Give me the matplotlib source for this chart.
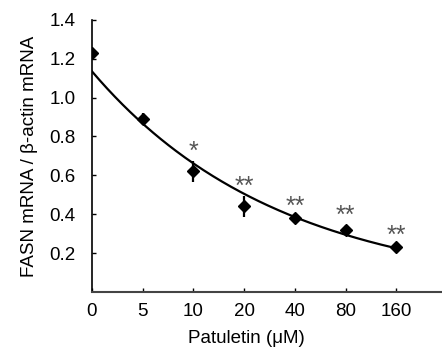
import numpy as np
import matplotlib
matplotlib.use("Agg")
import matplotlib.pyplot as plt

plt.rcParams['font.family'] = ['Liberation Sans', 'DejaVu Sans']

doses = ["0", "5", "10", "20", "40", "80", "160"]
values = [1.23, 0.89, 0.62, 0.44, 0.38, 0.32, 0.23]
errors = [0.02, 0.03, 0.055, 0.055, 0.01, 0.025, 0.01]
stars = ["", "", "*", "**", "**", "**", "**"]
yticks = [0.2, 0.4, 0.6, 0.8, 1.0, 1.2, 1.4]

fig = plt.figure(figsize=(4.42, 3.5), dpi=100)
ax = fig.add_axes([0.208, 0.166, 0.792, 0.777])

x = np.arange(len(doses))
ax.errorbar(x, values, yerr=errors, fmt='D', color='black', markersize=6.5,
            elinewidth=1.6, capsize=0, zorder=3)

# exponential trendline (least squares on log values)
slope, intercept = np.polyfit(x, np.log(values), 1)
xs = np.linspace(0, len(doses) - 1, 200)
ax.plot(xs, np.exp(intercept + slope * xs), color='black', lw=1.6, zorder=2)

for xi, v, e, s in zip(x, values, errors, stars):
    if s:
        ax.annotate(s, xy=(xi, v + e), xytext=(0, 1.5), textcoords='offset points',
                    ha='center', va='baseline', fontsize=18, color='#555555')

ax.set_xlim(0, 6.9)
ax.set_ylim(0, 1.4)
ax.set_xticks(x)
ax.set_xticklabels(doses)
ax.set_yticks(yticks)
ax.set_yticklabels([f"{t:.1f}" for t in yticks])
ax.tick_params(direction='in', length=3, labelsize=13.5, width=1)
ax.tick_params(axis='x', pad=8)
ax.tick_params(axis='y', pad=12)
ax.spines['top'].set_visible(False)
ax.spines['right'].set_visible(False)
ax.spines['left'].set_linewidth(1.2)
ax.spines['bottom'].set_linewidth(1.5)
ax.spines['bottom'].set_color('#444444')
ax.set_xlabel("Patuletin (μM)", fontsize=13.5)
ax.xaxis.set_label_coords(0.44, -0.14)
ax.set_ylabel("FASN mRNA / β-actin mRNA", fontsize=13.5)
ax.yaxis.set_label_coords(-0.155, 0.5)

fig.savefig("out.png", dpi=100)
